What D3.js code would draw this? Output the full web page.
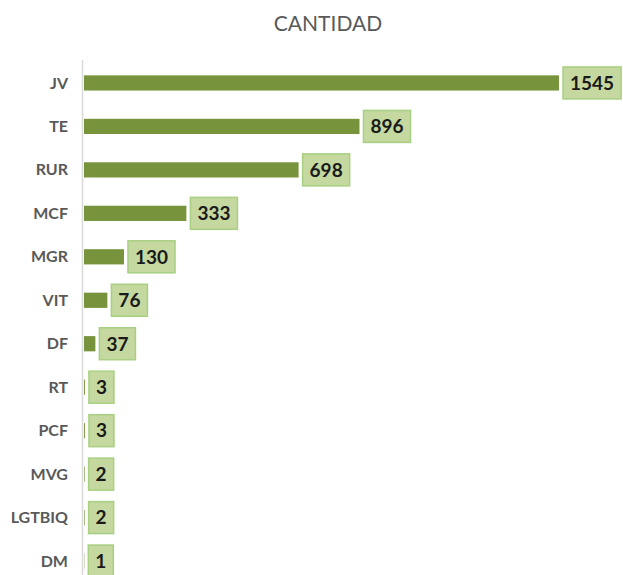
<!DOCTYPE html>
<html lang="es">
<head>
    <meta charset="UTF-8">
    <title>Cantidad</title>
    <style>
        body { margin: 0; background: #ffffff; }
        svg { font-family: Lato, "Open Sans", sans-serif; }
        .cat { font-size: 16px; font-weight: bold; fill: #595959; }
        .val { font-size: 19px; font-weight: bold; fill: #1a1a1a; }
    </style>
</head>
<body>
    <script src="https://d3js.org/d3.v7.min.js"></script>
    <script>
        var width = 623;
        var height = 575;

        // data
        var categories = ["JV", "TE", "RUR", "MCF", "MGR", "VIT", "DF", "RT", "PCF", "MVG", "LGTBIQ", "DM"];
        var values = [1545, 896, 698, 333, 130, 76, 37, 3, 3, 2, 2, 1];
        var title = "CANTIDAD";

        var data = categories.map(function(c, i) { return { name: c, value: values[i] }; });

        var svg = d3.select("body").append("svg")
            .attr("width", width)
            .attr("height", height);

        var x = d3.scaleLinear()
            .domain([0, 1545])
            .range([84, 559]);

        var y = d3.scaleBand()
            .domain(categories)
            .range([61, 583])
            .paddingInner(0.65)
            .paddingOuter(0.33);

        svg.append("text")
            .attr("x", 328)
            .attr("y", 31)
            .attr("text-anchor", "middle")
            .style("font-size", "21px")
            .style("fill", "#595959")
            .text(title);

        // category axis line
        svg.append("line")
            .attr("x1", 82.5).attr("x2", 82.5)
            .attr("y1", 60).attr("y2", height)
            .attr("stroke", "#d9d9d9")
            .attr("stroke-width", 1.5);

        svg.selectAll(".cat")
            .data(data)
            .enter().append("text")
            .attr("class", "cat")
            .attr("x", 68)
            .attr("y", function(d) { return y(d.name) + y.bandwidth() / 2; })
            .attr("dy", "0.35em")
            .attr("text-anchor", "end")
            .text(function(d) { return d.name; });

        svg.selectAll(".bar")
            .data(data)
            .enter().append("rect")
            .attr("class", "bar")
            .attr("x", x(0))
            .attr("y", function(d) { return y(d.name); })
            .attr("width", function(d) { return x(d.value) - x(0); })
            .attr("height", y.bandwidth())
            .attr("fill", "#77933c");

        var lab = svg.selectAll(".lab")
            .data(data)
            .enter().append("g")
            .attr("class", "lab");

        var box = lab.append("rect")
            .attr("fill", "#c4d89f")
            .attr("stroke", "#a8cf82")
            .attr("stroke-width", 1.5);

        var txt = lab.append("text")
            .attr("class", "val")
            .attr("y", function(d) { return y(d.name) + y.bandwidth() / 2; })
            .attr("dy", "0.36em")
            .text(function(d) { return d.value; });

        txt.each(function(d) {
            var w = this.getComputedTextLength();
            var x0 = Math.max(x(d.value), x(0)) + 4;
            d.bx = x0;
            d.bw = w + 14;
            d3.select(this).attr("x", x0 + 7);
        });

        box.attr("x", function(d) { return d.bx; })
            .attr("y", function(d) { return y(d.name) + y.bandwidth() / 2 - 16; })
            .attr("width", function(d) { return d.bw; })
            .attr("height", 32);
    </script>
</body>
</html>
